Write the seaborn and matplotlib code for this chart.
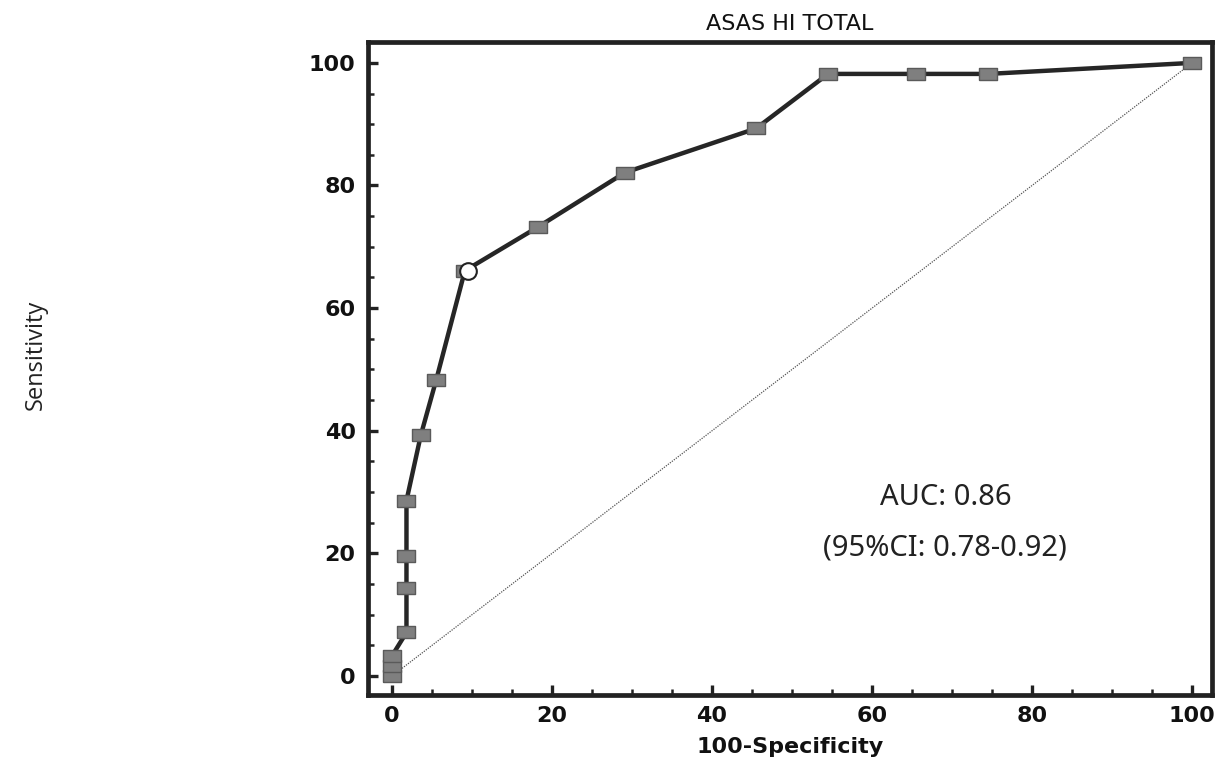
import matplotlib
matplotlib.use("Agg")
import matplotlib.pyplot as plt
from matplotlib.ticker import MultipleLocator
import seaborn as sns
import pandas as pd

# Data
fpr = [0, 0, 0, 1.8, 1.8, 1.8, 1.8, 3.6, 5.5, 9.1, 18.2, 29.1, 45.5, 54.5, 65.5, 74.5, 100]
tpr = [0, 1.6, 3.3, 7.1, 14.3, 19.6, 28.6, 39.3, 48.2, 66.1, 73.2, 82.1, 89.3, 98.2, 98.2, 98.2, 100]
cut_fpr = [9.1]
cut_tpr = [66.1]
ref_line = [0, 100]
title = "ASAS HI TOTAL"
xlabel = "100-Specificity"
ylabel = "Sensitivity"
auc_text = "AUC: 0.86"
ci_text = "(95%CI: 0.78-0.92)"
ticks = [0, 20, 40, 60, 80, 100]

sns.set_style("white")
plt.rcParams['font.family'] = ['DejaVu Sans']

df = pd.DataFrame({"fpr": fpr, "tpr": tpr})
cut = pd.DataFrame({"fpr": cut_fpr, "tpr": cut_tpr})
diag = pd.DataFrame({"x": ref_line, "y": ref_line})

fig = plt.figure(figsize=(12.31, 7.67), dpi=100)
ax = fig.add_axes([0.299, 0.0939, 0.6856, 0.8513])

rect_marker = [(-1.4, -1), (1.4, -1), (1.4, 1), (-1.4, 1), (-1.4, -1)]

sns.lineplot(data=diag, x="x", y="y", ax=ax, color="#555555", lw=0.9,
             linestyle=(0, (1, 1)), estimator=None, sort=False, zorder=1)
sns.lineplot(data=df, x="fpr", y="tpr", ax=ax, color="#262626", lw=3.2,
             estimator=None, sort=False, marker=rect_marker, markersize=13,
             markerfacecolor="#7f7f7f", markeredgecolor="#5a5a5a",
             markeredgewidth=1.0, zorder=3)
ax.plot(cut["fpr"] + 0.4, cut["tpr"], linestyle="none", marker="o",
        markersize=12, markerfacecolor="white", markeredgecolor="#222222",
        markeredgewidth=1.5, zorder=4)

ax.set_xlim(-3, 102.5)
ax.set_ylim(-3.1, 103.4)
ax.set_xticks(ticks)
ax.set_yticks(ticks)
ax.xaxis.set_minor_locator(MultipleLocator(5))
ax.yaxis.set_minor_locator(MultipleLocator(5))
ax.tick_params(which="major", direction="in", length=7.5, width=2.4,
               labelsize=16, pad=8, color="#222222", labelcolor="#111111")
ax.tick_params(which="minor", direction="in", length=4, width=1.8, color="#222222")
ax.tick_params(axis="y", which="both", left=True)
ax.tick_params(axis="x", which="both", bottom=True)
ax.tick_params(axis="y", which="major", pad=9)
for lbl in ax.get_xticklabels() + ax.get_yticklabels():
    lbl.set_fontweight("bold")
for s in ax.spines.values():
    s.set_linewidth(3.4)
    s.set_color("#222222")
    s.set_visible(True)

ax.set_title(title, fontsize=16, pad=9, color="#111111")
ax.set_xlabel(xlabel, fontsize=16, labelpad=8, color="#111111", fontweight="bold")
ax.set_ylabel("")
fig.text(0.029, 0.537, ylabel, rotation=90, fontsize=17, family="Open Sans",
         ha="center", va="center", color="#222222")

ax.text(0.684, 0.303, auc_text, transform=ax.transAxes, fontsize=21,
        family="Noto Sans", ha="center", va="center", color="#222222")
ax.text(0.684, 0.225, ci_text, transform=ax.transAxes, fontsize=21,
        family="Noto Sans", ha="center", va="center", color="#222222")

fig.savefig("out.png", dpi=100)
